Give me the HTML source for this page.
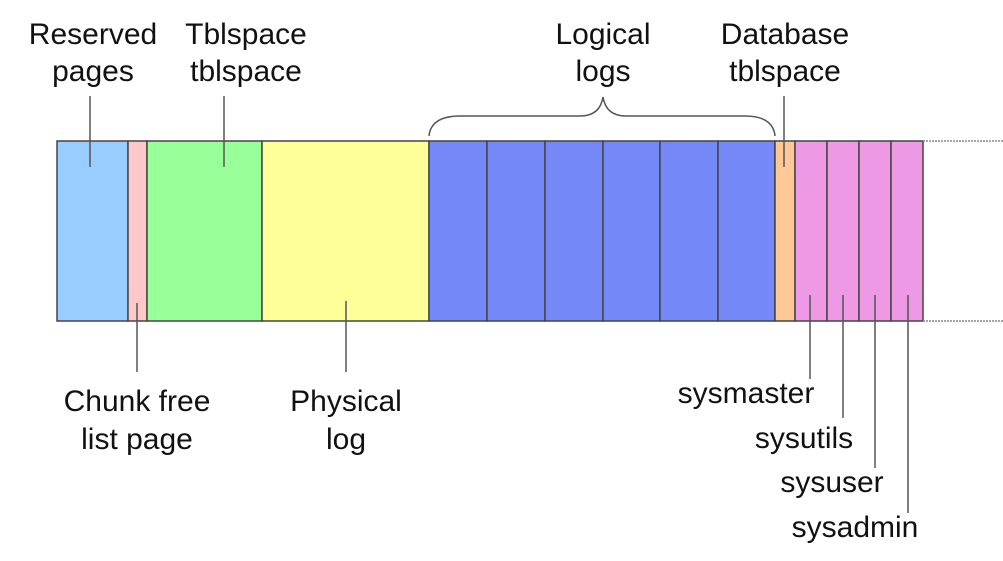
<!DOCTYPE html>
<html><head><meta charset="utf-8"><style>
html,body{margin:0;padding:0;background:#fff;}
svg{display:block}
text{font-family:"Liberation Sans",Arial,sans-serif;font-size:30px;fill:#111;text-anchor:middle}
</style></head><body>
<svg width="1003" height="561" viewBox="0 0 1003 561" xmlns="http://www.w3.org/2000/svg">
<g stroke="#444" stroke-width="1.5">
<rect x="57" y="141" width="71" height="180" fill="#99ccff"/>
<rect x="128" y="141" width="19" height="180" fill="#ffc8c8"/>
<rect x="147" y="141" width="115" height="180" fill="#99ff99"/>
<rect x="262" y="141" width="167" height="180" fill="#ffff99"/>
<rect x="429" y="141" width="58" height="180" fill="#7588f7"/>
<rect x="487" y="141" width="58" height="180" fill="#7588f7"/>
<rect x="545" y="141" width="58" height="180" fill="#7588f7"/>
<rect x="603" y="141" width="57" height="180" fill="#7588f7"/>
<rect x="660" y="141" width="58" height="180" fill="#7588f7"/>
<rect x="718" y="141" width="57" height="180" fill="#7588f7"/>
<rect x="775" y="141" width="20" height="180" fill="#ffc896"/>
<rect x="795" y="141" width="32" height="180" fill="#ee99e6"/>
<rect x="827" y="141" width="32" height="180" fill="#ee99e6"/>
<rect x="859" y="141" width="32" height="180" fill="#ee99e6"/>
<rect x="891" y="141" width="32" height="180" fill="#ee99e6"/>
</g>
<g stroke="#888" stroke-width="1.5" stroke-dasharray="2,1">
<line x1="923" y1="141" x2="1003" y2="141"/>
<line x1="923" y1="321" x2="1003" y2="321"/>
</g>
<g stroke="#555" stroke-width="1.5" fill="none">
<line x1="90" y1="96" x2="90" y2="167"/>
<line x1="224" y1="96" x2="224" y2="167"/>
<line x1="137" y1="303" x2="137" y2="372"/>
<line x1="346" y1="301" x2="346" y2="372"/>
<line x1="784" y1="96" x2="784" y2="167"/>
<line x1="810" y1="295" x2="810" y2="379"/>
<line x1="843" y1="295" x2="843" y2="418"/>
<line x1="875" y1="295" x2="875" y2="468"/>
<line x1="908" y1="295" x2="908" y2="513"/>
<path d="M429,136 Q431,116 460,116 L580,116 Q600,116 603,97 Q606,116 626,116 L745,116 Q773,116 775,136"/>
</g>
<text x="93" y="44">Reserved</text>
<text x="93" y="81">pages</text>
<text x="246" y="44">Tblspace</text>
<text x="246" y="81">tblspace</text>
<text x="603" y="44">Logical</text>
<text x="603" y="81">logs</text>
<text x="785" y="44">Database</text>
<text x="785" y="81">tblspace</text>
<text x="137" y="411">Chunk free</text>
<text x="137" y="449">list page</text>
<text x="346" y="411">Physical</text>
<text x="346" y="449">log</text>
<text x="746" y="403">sysmaster</text>
<text x="804" y="448">sysutils</text>
<text x="832" y="492">sysuser</text>
<text x="855" y="537">sysadmin</text>
</svg>
</body></html>
